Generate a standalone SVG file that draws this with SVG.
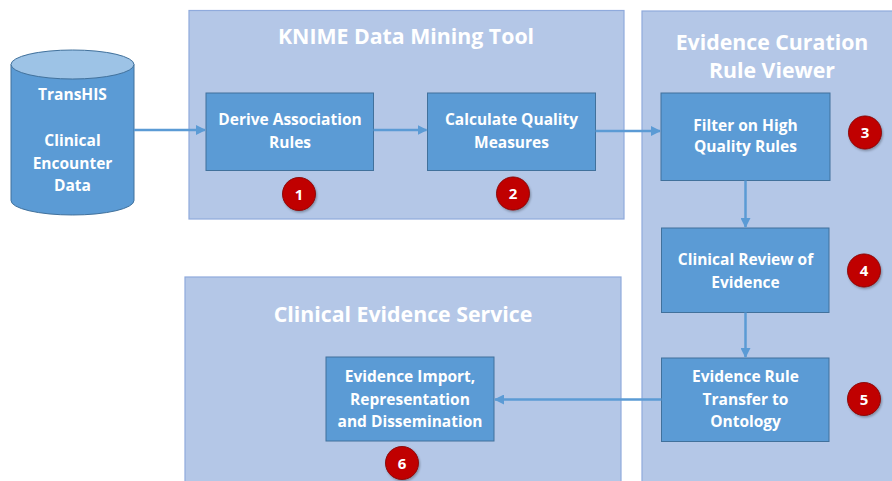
<svg xmlns="http://www.w3.org/2000/svg" width="892" height="481" viewBox="0 0 892 481">
<defs>
<style>
.cont{fill:#b4c7e7;stroke:#8faadc;stroke-width:1.2}
.title{font-family:"Open Sans","Liberation Sans",sans-serif;font-weight:bold;font-size:21.3px;fill:#ffffff;text-anchor:middle}
.node{fill:#5b9bd5;stroke:#41719c;stroke-width:1}
.lbl{font-family:"Open Sans","Liberation Sans",sans-serif;font-weight:bold;font-size:15.5px;fill:#ffffff;text-anchor:middle}
.cyl{font-family:"Open Sans","Liberation Sans",sans-serif;font-weight:bold;font-size:15.5px;fill:#ffffff;text-anchor:middle}
.badge{fill:#c00000;stroke:#8b0a0a;stroke-width:1}
.num{font-family:"Open Sans","Liberation Sans",sans-serif;font-weight:bold;font-size:15px;fill:#ffffff;text-anchor:middle}
.conn{stroke:#5b9bd5;stroke-width:2.5;fill:none;marker-end:url(#ah)}
</style>
<marker id="ah" viewBox="0 0 10 10" refX="9" refY="5" markerWidth="4" markerHeight="4" orient="auto" markerUnits="strokeWidth">
<path d="M0,0 L10,5 L0,10 z" fill="#5b9bd5"/>
</marker>
<filter id="sh" x="-30%" y="-30%" width="160%" height="160%">
<feDropShadow dx="1" dy="1.5" stdDeviation="1" flood-color="#000" flood-opacity="0.3"/>
</filter>
</defs>
<rect width="892" height="481" fill="#ffffff"/>

<g id="knime">
<rect class="cont" x="189" y="10.5" width="435" height="208.5"/>
<text class="title" x="406" y="43.5">KNIME Data Mining Tool</text>
</g>
<g id="curation">
<rect class="cont" x="642" y="11" width="260" height="480"/>
<text class="title" x="772" y="50">Evidence Curation</text>
<text class="title" x="772" y="78">Rule Viewer</text>
</g>
<g id="ces">
<rect class="cont" x="185" y="277" width="436" height="214"/>
<text class="title" x="403" y="321.5">Clinical Evidence Service</text>
</g>

<g id="transhis">
<path class="node" d="M11,64.5 L11,200.5 A61.5,14.5 0 0 0 134,200.5 L134,64.5"/>
<ellipse cx="72.5" cy="64.5" rx="61.5" ry="14.5" fill="#9dc3e6" stroke="#41719c" stroke-width="1"/>
<text class="cyl" x="72.5" y="100">TransHIS</text>
<text class="cyl" x="72.5" y="145.5">Clinical</text>
<text class="cyl" x="72.5" y="168.5">Encounter</text>
<text class="cyl" x="72.5" y="191">Data</text>
</g>

<g id="derive">
<rect class="node" x="206" y="93" width="167.5" height="77.5"/>
<text class="lbl" x="290" y="125">Derive Association</text>
<text class="lbl" x="290" y="147.5">Rules</text>
</g>
<g id="calc">
<rect class="node" x="427.5" y="93" width="168" height="77.5"/>
<text class="lbl" x="511.5" y="125">Calculate Quality</text>
<text class="lbl" x="511.5" y="147.5">Measures</text>
</g>
<g id="filter">
<rect class="node" x="661" y="93" width="169" height="87.5"/>
<text class="lbl" x="745.5" y="130.5">Filter on High</text>
<text class="lbl" x="745.5" y="152">Quality Rules</text>
</g>
<g id="review">
<rect class="node" x="661.5" y="228" width="167.5" height="84.5"/>
<text class="lbl" x="745.5" y="265">Clinical Review of</text>
<text class="lbl" x="745.5" y="287.5">Evidence</text>
</g>
<g id="transfer">
<rect class="node" x="661.5" y="358" width="167.5" height="83.5"/>
<text class="lbl" x="745.5" y="382">Evidence Rule</text>
<text class="lbl" x="745.5" y="404.5">Transfer to</text>
<text class="lbl" x="745.5" y="427">Ontology</text>
</g>
<g id="import">
<rect class="node" x="326" y="357" width="168" height="84"/>
<text class="lbl" x="410" y="382">Evidence Import,</text>
<text class="lbl" x="410" y="404.5">Representation</text>
<text class="lbl" x="410" y="427">and Dissemination</text>
</g>

<g id="badges">
<g id="b1"><circle class="badge" filter="url(#sh)" cx="299" cy="194" r="16.5"/><text class="num" x="299" y="199.5">1</text></g>
<g id="b2"><circle class="badge" filter="url(#sh)" cx="513" cy="193.5" r="16.5"/><text class="num" x="513" y="199">2</text></g>
<g id="b3"><circle class="badge" filter="url(#sh)" cx="865" cy="132.5" r="16.5"/><text class="num" x="865" y="138">3</text></g>
<g id="b4"><circle class="badge" filter="url(#sh)" cx="864" cy="270.5" r="16.5"/><text class="num" x="864" y="276">4</text></g>
<g id="b5"><circle class="badge" filter="url(#sh)" cx="864" cy="399" r="16.5"/><text class="num" x="864" y="404.5">5</text></g>
<g id="b6"><circle class="badge" filter="url(#sh)" cx="402" cy="463" r="16.5"/><text class="num" x="402" y="468.5">6</text></g>
</g>

<g id="connectors">
<line class="conn" x1="134" y1="130" x2="205" y2="130"/>
<line class="conn" x1="373.5" y1="130" x2="426.5" y2="130"/>
<line class="conn" x1="595.5" y1="131" x2="660" y2="131"/>
<line class="conn" x1="745.5" y1="180.5" x2="745.5" y2="227"/>
<line class="conn" x1="745.5" y1="312.5" x2="745.5" y2="357"/>
<line class="conn" x1="661.5" y1="399.5" x2="495" y2="399.5"/>
</g>
</svg>
